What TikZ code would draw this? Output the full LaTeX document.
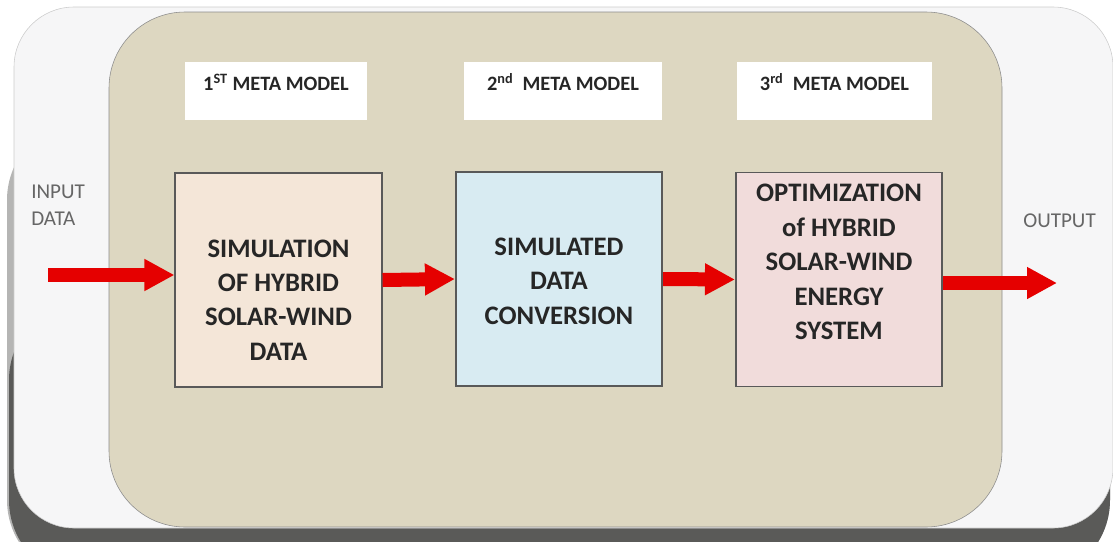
\documentclass[tikz,border=0pt]{standalone}
\usepackage{fontspec}
\setmainfont{Carlito}
\usetikzlibrary{arrows.meta, positioning}
\definecolor{frameback}{HTML}{F6F6F7}
\definecolor{shadowgrey}{HTML}{5A5A58}
\definecolor{panel}{HTML}{DDD7C1}
\definecolor{peach}{HTML}{F4E6D8}
\definecolor{iceblue}{HTML}{D8EBF2}
\definecolor{rosy}{HTML}{F1DCDB}
\definecolor{arrowred}{HTML}{E50000}
\tikzset{
  stage/.style={
    draw=black!65,
    line width=1.2pt,
    minimum width=5.16cm,
    minimum height=5.35cm},
  tag/.style={
    fill=white,
    inner xsep=0pt,
    inner ysep=0pt,
    text height=0.7cm,
    text depth=0.725cm,
    text=black!85,
    font=\bfseries\fontsize{14.5}{17}\selectfont},
  words/.style={
    align=center,
    text=black!85,
    font=\bfseries\fontsize{19}{24.5}\selectfont},
  note/.style={
    inner sep=0pt,
    align=left,
    text=black!60,
    font=\fontsize{15}{19}\selectfont},
  flow/.style={
    draw=arrowred,
    line width=0.35cm,
    -{Triangle[length=0.75cm, width=0.75cm]}}
  }

\begin{document}
\begin{tikzpicture}[x=0.025cm, y=-0.025cm]
    \useasboundingbox (0,0) rectangle (1113,541);
    \fill[shadowgrey!45, rounded corners=2cm] (7,120) rectangle (1110,580);
    \fill[shadowgrey, rounded corners=2cm] (9,300) rectangle (1110,580);
    \filldraw[fill=frameback, draw=black!20, rounded corners=1.5cm] (14,7) rectangle (1113,528);
    \filldraw[fill=panel, draw=black!45, rounded corners=1.9cm] (109,12) rectangle (1002,527);
    \node[tag, minimum width=4.55cm] (meta1) at (276,91) {1\textsuperscript{ST} META MODEL};
    \node[tag, minimum width=4.95cm] (meta2) at (563,91) {2\textsuperscript{nd}\ \ META MODEL};
    \node[tag, minimum width=4.875cm] (meta3) at (834.5,91) {3\textsuperscript{rd}\ \ META MODEL};
    \node[stage, fill=peach] (sim) at (278.5,280) {};
    \node[stage, fill=iceblue] (conv) at (559,279) {};
    \node[stage, fill=rosy] (opt) at (839,279.5) {};
    \node[words] (simtext) at (278.5,300) {SIMULATION\\OF HYBRID\\SOLAR-WIND\\DATA};
    \node[words] (convtext) at (559,281) {SIMULATED\\DATA\\CONVERSION};
    \node[words] (opttext) at (839,262) {OPTIMIZATION\\of HYBRID\\SOLAR-WIND\\ENERGY\\SYSTEM};
    \node[note, anchor=west] (input) at (31,205) {INPUT\\DATA};
    \node[note, anchor=west] (output) at (1023,221) {OUTPUT};
    \coordinate (in) at (48,275);
    \coordinate (out) at (1057,283);
    \draw[flow] (in) -- (in -| sim.west);
    \draw[flow] (sim.east) -- (conv.west);
    \draw[flow] (conv.east) -- (opt.west);
    \draw[flow] (out -| opt.east) -- (out);
\end{tikzpicture}
\end{document}
